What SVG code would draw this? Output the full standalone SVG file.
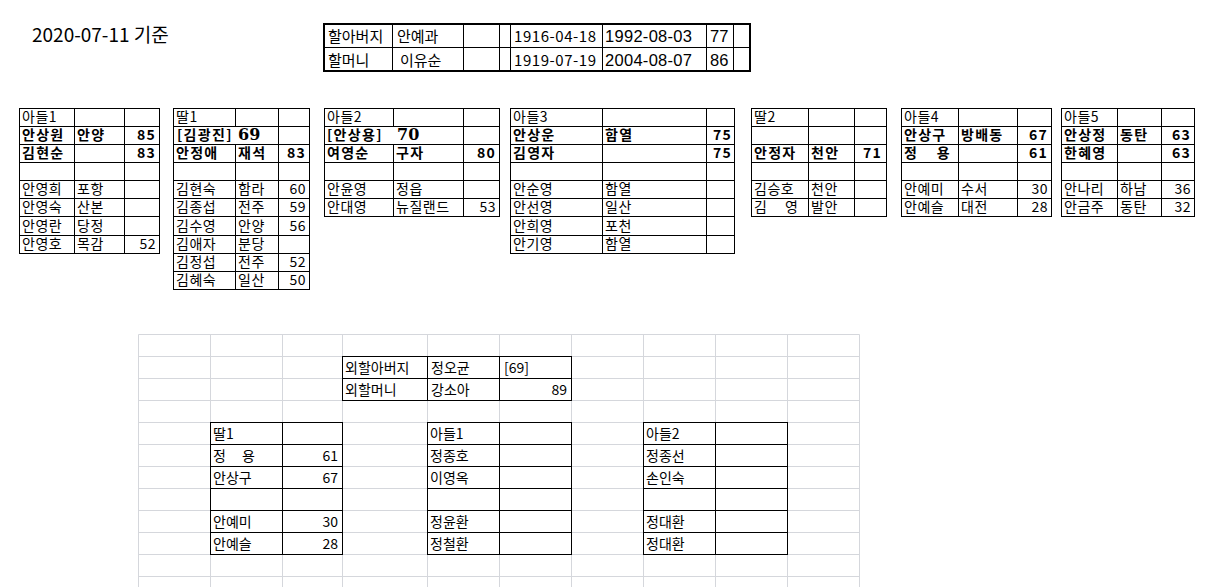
<svg xmlns="http://www.w3.org/2000/svg" width="1230" height="587" viewBox="0 0 1230 587">
<style>
.bg{fill:#ffffff}
.ln{fill:none;stroke:#000;stroke-width:1}
.ln2{fill:none;stroke:#000;stroke-width:2}
.grid{fill:none;stroke:#d5d7dc;stroke-width:1}
text{font-family:"Noto Sans CJK KR","Noto Sans",sans-serif;fill:#000}
.t{font-size:14px;letter-spacing:0.5px}
.b{font-weight:bold;letter-spacing:1.3px}
.e{text-anchor:end}
.big{font-family:"DejaVu Serif",serif;font-weight:bold;font-size:16px;letter-spacing:0}
.g{font-size:15px}
.d{font-family:"Liberation Sans",Arial,sans-serif;font-size:16.5px}
.s{font-size:14px}
.title{font-size:19px}
.sp{word-spacing:14px}
.sp2{word-spacing:13px}
</style>
<rect class="bg" x="0" y="0" width="1230" height="587"/>

<text class="title" x="32" y="42">2020-07-11 기준</text>

<g id="grandparents">
<rect class="ln2" x="324" y="24" width="426" height="47"/>
<path class="ln" d="M324 47.5H750M392.5 24V71M463.5 24V71M499.5 24V71M510.5 24V71M602.5 24V71M706.5 24V71M733.5 24V71"/>
<text class="g" x="328" y="42">할아버지</text>
<text class="g" x="397" y="42">안예과</text>
<text class="g" x="514" y="42" textLength="82" lengthAdjust="spacing">1916-04-18</text>
<text class="d" x="605" y="42" textLength="87" lengthAdjust="spacing">1992-08-03</text>
<text class="d" x="710" y="42">77</text>
<text class="g" x="328" y="66">할머니</text>
<text class="g" x="400" y="66">이유순</text>
<text class="g" x="514" y="66" textLength="82" lengthAdjust="spacing">1919-07-19</text>
<text class="d" x="605" y="66" textLength="87" lengthAdjust="spacing">2004-08-07</text>
<text class="d" x="710" y="66">86</text>
</g>

<g id="son1">
<rect class="ln" x="19.5" y="108.5" width="140" height="145"/>
<path class="ln" d="M74.5 108.5V253.5M124.5 108.5V253.5M19.5 126.5H159.5M19.5 144.5H159.5M19.5 162.5H159.5M19.5 180.5H159.5M19.5 198.5H159.5M19.5 216.5H159.5M19.5 235.5H159.5"/>
<text class="t" x="22" y="122">아들1</text>
<text class="t b" x="22" y="140">안상원</text><text class="t b" x="77" y="140">안양</text><text class="t b e" x="156" y="140">85</text>
<text class="t b" x="22" y="158">김현순</text><text class="t b e" x="156" y="158">83</text>
<text class="t" x="22" y="194">안영희</text><text class="t" x="77" y="194">포항</text>
<text class="t" x="22" y="212">안영숙</text><text class="t" x="77" y="212">산본</text>
<text class="t" x="22" y="231">안영란</text><text class="t" x="77" y="231">당정</text>
<text class="t" x="22" y="249">안영호</text><text class="t" x="77" y="249">목감</text><text class="t e" x="156" y="249">52</text>
</g>

<g id="daughter1">
<rect class="ln" x="173.5" y="108.5" width="136" height="181"/>
<path class="ln" d="M235.5 108.5V126.5M235.5 144.5V289.5M278.5 108.5V289.5M173.5 126.5H309.5M173.5 144.5H309.5M173.5 162.5H309.5M173.5 180.5H309.5M173.5 198.5H309.5M173.5 216.5H309.5M173.5 235.5H309.5M173.5 253.5H309.5M173.5 271.5H309.5"/>
<text class="t" x="176" y="122">딸1</text>
<text class="t b" x="177" y="140">[김광진]<tspan class="big" x="238">69</tspan></text>
<text class="t b" x="176" y="158">안정애</text><text class="t b" x="238" y="158">재석</text><text class="t b e" x="306" y="158">83</text>
<text class="t" x="176" y="194">김현숙</text><text class="t" x="238" y="194">함라</text><text class="t e" x="306" y="194">60</text>
<text class="t" x="176" y="212">김종섭</text><text class="t" x="238" y="212">전주</text><text class="t e" x="306" y="212">59</text>
<text class="t" x="176" y="231">김수영</text><text class="t" x="238" y="231">안양</text><text class="t e" x="306" y="231">56</text>
<text class="t" x="176" y="249">김애자</text><text class="t" x="238" y="249">분당</text>
<text class="t" x="176" y="267">김정섭</text><text class="t" x="238" y="267">전주</text><text class="t e" x="306" y="267">52</text>
<text class="t" x="176" y="285">김혜숙</text><text class="t" x="238" y="285">일산</text><text class="t e" x="306" y="285">50</text>
</g>

<g id="son2">
<rect class="ln" x="324.5" y="108.5" width="175" height="108"/>
<path class="ln" d="M393.5 108.5V126.5M393.5 144.5V216.5M463.5 108.5V216.5M324.5 126.5H499.5M324.5 144.5H499.5M324.5 162.5H499.5M324.5 180.5H499.5M324.5 198.5H499.5"/>
<text class="t" x="327" y="122">아들2</text>
<text class="t b" x="327" y="140">[안상용]<tspan class="big" x="397">70</tspan></text>
<text class="t b" x="327" y="158">여영순</text><text class="t b" x="396" y="158">구자</text><text class="t b e" x="496" y="158">80</text>
<text class="t" x="327" y="194">안윤영</text><text class="t" x="396" y="194">정읍</text>
<text class="t" x="327" y="212">안대영</text><text class="t" x="396" y="212">뉴질랜드</text><text class="t e" x="496" y="212">53</text>
</g>

<g id="son3">
<rect class="ln" x="510.5" y="108.5" width="224" height="145"/>
<path class="ln" d="M602.5 108.5V253.5M706.5 108.5V253.5M510.5 126.5H734.5M510.5 144.5H734.5M510.5 162.5H734.5M510.5 180.5H734.5M510.5 198.5H734.5M510.5 216.5H734.5M510.5 235.5H734.5"/>
<text class="t" x="513" y="122">아들3</text>
<text class="t b" x="513" y="140">안상운</text><text class="t b" x="605" y="140">함열</text><text class="t b e" x="732" y="140">75</text>
<text class="t b" x="513" y="158">김영자</text><text class="t b e" x="732" y="158">75</text>
<text class="t" x="513" y="194">안순영</text><text class="t" x="605" y="194">함열</text>
<text class="t" x="513" y="212">안선영</text><text class="t" x="605" y="212">일산</text>
<text class="t" x="513" y="231">안희영</text><text class="t" x="605" y="231">포천</text>
<text class="t" x="513" y="249">안기영</text><text class="t" x="605" y="249">함열</text>
</g>

<g id="daughter2">
<rect class="ln" x="751.5" y="108.5" width="135" height="108"/>
<path class="ln" d="M808.5 108.5V216.5M854.5 108.5V216.5M751.5 126.5H886.5M751.5 144.5H886.5M751.5 162.5H886.5M751.5 180.5H886.5M751.5 198.5H886.5"/>
<text class="t" x="754" y="122">딸2</text>
<text class="t b" x="754" y="158">안정자</text><text class="t b" x="811" y="158">천안</text><text class="t b e" x="882" y="158">71</text>
<text class="t" x="754" y="194">김승호</text><text class="t" x="811" y="194">천안</text>
<text class="t sp" x="754" y="212">김 영</text><text class="t" x="811" y="212">발안</text>
</g>

<g id="son4">
<rect class="ln" x="901.5" y="108.5" width="150" height="108"/>
<path class="ln" d="M958.5 108.5V216.5M1017.5 108.5V216.5M901.5 126.5H1051.5M901.5 144.5H1051.5M901.5 162.5H1051.5M901.5 180.5H1051.5M901.5 198.5H1051.5"/>
<text class="t" x="904" y="122">아들4</text>
<text class="t b" x="904" y="140">안상구</text><text class="t b" x="961" y="140">방배동</text><text class="t b e" x="1048" y="140">67</text>
<text class="t b sp" x="904" y="158">정 용</text><text class="t b e" x="1048" y="158">61</text>
<text class="t" x="904" y="194">안예미</text><text class="t" x="961" y="194">수서</text><text class="t e" x="1048" y="194">30</text>
<text class="t" x="904" y="212">안예슬</text><text class="t" x="961" y="212">대전</text><text class="t e" x="1048" y="212">28</text>
</g>

<g id="son5">
<rect class="ln" x="1061.5" y="108.5" width="133" height="108"/>
<path class="ln" d="M1117.5 108.5V216.5M1161.5 108.5V216.5M1061.5 126.5H1194.5M1061.5 144.5H1194.5M1061.5 162.5H1194.5M1061.5 180.5H1194.5M1061.5 198.5H1194.5"/>
<text class="t" x="1064" y="122">아들5</text>
<text class="t b" x="1064" y="140">안상정</text><text class="t b" x="1120" y="140">동탄</text><text class="t b e" x="1191" y="140">63</text>
<text class="t b" x="1064" y="158">한혜영</text><text class="t b e" x="1191" y="158">63</text>
<text class="t" x="1064" y="194">안나리</text><text class="t" x="1120" y="194">하남</text><text class="t e" x="1191" y="194">36</text>
<text class="t" x="1064" y="212">안금주</text><text class="t" x="1120" y="212">동탄</text><text class="t e" x="1191" y="212">32</text>
</g>

<g id="sheet-grid">
<path class="grid" d="M138.5 334.5V587M210.5 334.5V587M282.5 334.5V587M342.5 334.5V587M427.5 334.5V587M499.5 334.5V587M571.5 334.5V587M643.5 334.5V587M715.5 334.5V587M787.5 334.5V587M859.5 334.5V587M138.5 334.5H859.5M138.5 356.5H859.5M138.5 378.5H859.5M138.5 400.5H859.5M138.5 422.5H859.5M138.5 444.5H859.5M138.5 466.5H859.5M138.5 488.5H859.5M138.5 510.5H859.5M138.5 532.5H859.5M138.5 554.5H859.5M138.5 576.5H859.5"/>
</g>

<g id="maternal-grandparents">
<rect class="ln" x="342.5" y="356.5" width="229" height="44"/>
<path class="ln" d="M342.5 378.5H571.5M427.5 356.5V400.5M499.5 356.5V400.5"/>
<text class="s" x="345" y="373">외할아버지</text><text class="s" x="431" y="373">정오균</text><text class="s" x="504" y="373">[69]</text>
<text class="s" x="345" y="395">외할머니</text><text class="s" x="431" y="395">강소아</text><text class="s e" x="567" y="395">89</text>
</g>

<g id="m-daughter1">
<rect class="ln" x="210.5" y="422.5" width="132" height="132"/>
<path class="ln" d="M282.5 422.5V554.5M210.5 444.5H342.5M210.5 466.5H342.5M210.5 488.5H342.5M210.5 510.5H342.5M210.5 532.5H342.5"/>
<text class="s" x="213" y="439">딸1</text>
<text class="s sp2" x="213" y="461">정 용</text><text class="s e" x="338" y="461">61</text>
<text class="s" x="213" y="483">안상구</text><text class="s e" x="338" y="483">67</text>
<text class="s" x="213" y="527">안예미</text><text class="s e" x="338" y="527">30</text>
<text class="s" x="213" y="549">안예슬</text><text class="s e" x="338" y="549">28</text>
</g>

<g id="m-son1">
<rect class="ln" x="427.5" y="422.5" width="144" height="132"/>
<path class="ln" d="M499.5 422.5V554.5M427.5 444.5H571.5M427.5 466.5H571.5M427.5 488.5H571.5M427.5 510.5H571.5M427.5 532.5H571.5"/>
<text class="s" x="430" y="439">아들1</text>
<text class="s" x="430" y="461">정종호</text>
<text class="s" x="430" y="483">이영옥</text>
<text class="s" x="430" y="527">정윤환</text>
<text class="s" x="430" y="549">정철환</text>
</g>

<g id="m-son2">
<rect class="ln" x="643.5" y="422.5" width="144" height="132"/>
<path class="ln" d="M715.5 422.5V554.5M643.5 444.5H787.5M643.5 466.5H787.5M643.5 488.5H787.5M643.5 510.5H787.5M643.5 532.5H787.5"/>
<text class="s" x="646" y="439">아들2</text>
<text class="s" x="646" y="461">정종선</text>
<text class="s" x="646" y="483">손인숙</text>
<text class="s" x="646" y="527">정대환</text>
<text class="s" x="646" y="549">정대환</text>
</g>

<g id="connectors"></g>
</svg>
